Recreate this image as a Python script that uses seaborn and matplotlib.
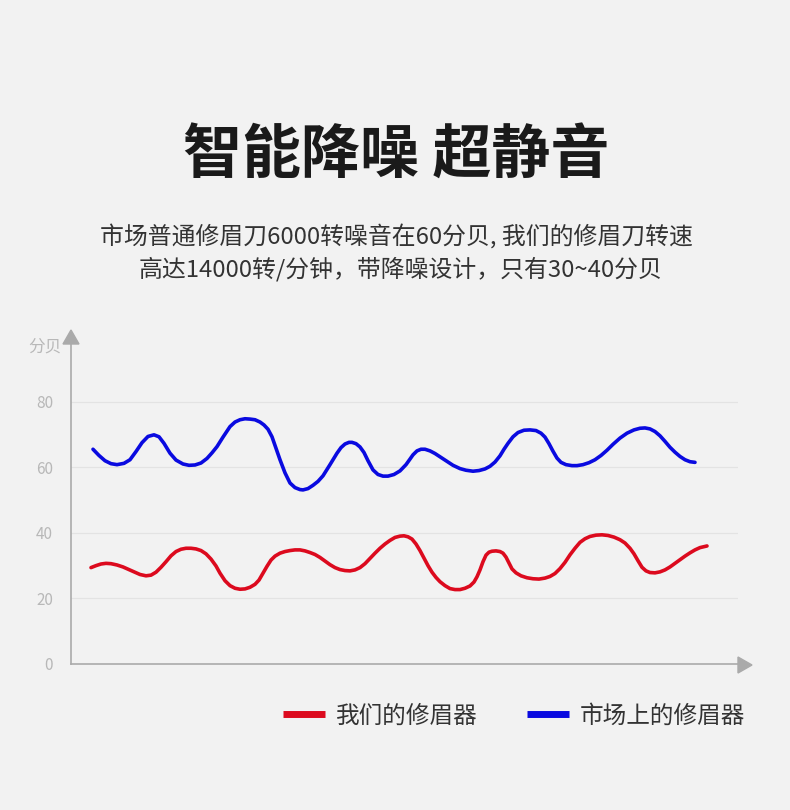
import pandas as pd
import matplotlib.pyplot as plt
import seaborn as sns
from matplotlib.patches import Polygon
from matplotlib.transforms import IdentityTransform

# Values (x = horizontal position along the axis, y = 分贝)
ours_x = [91, 96, 101, 106, 111, 117, 123, 129, 135, 140, 146, 151, 156, 161, 166, 171,
          176, 181, 186, 191, 196, 201, 206, 211, 216, 220, 225, 230, 235, 240, 245, 250,
          255, 259, 263, 267, 271, 275, 280, 285, 290, 295, 300, 305, 310, 315, 320, 325,
          330, 335, 340, 345, 350, 355, 360, 365, 370, 375, 380, 385, 390, 395, 400, 404,
          408, 412, 416, 420, 424, 428, 432, 436, 440, 445, 450, 455, 460, 465, 470, 474,
          477, 480, 483, 486, 489, 492, 496, 500, 503, 506, 509, 512, 516, 521, 527, 533,
          539, 545, 550, 555, 560, 565, 570, 575, 580, 585, 590, 596, 602, 608, 614, 620,
          625, 630, 634, 638, 642, 646, 650, 655, 660, 665, 670, 675, 680, 685, 690, 695,
          700, 707]
ours_db = [29.4, 30.0, 30.5, 30.7, 30.6, 30.2, 29.6, 28.8, 28.0, 27.3, 26.9, 27.1, 28.0,
           29.5, 31.2, 33.0, 34.3, 35.0, 35.3, 35.3, 35.1, 34.6, 33.6, 32.0, 29.9, 27.7,
           25.4, 23.9, 23.1, 22.8, 22.9, 23.4, 24.3, 25.6, 27.7, 29.8, 31.7, 32.9, 33.8,
           34.3, 34.6, 34.8, 34.8, 34.5, 34.0, 33.4, 32.5, 31.4, 30.3, 29.4, 28.8, 28.5,
           28.4, 28.7, 29.4, 30.6, 32.2, 33.8, 35.3, 36.6, 37.7, 38.6, 39.0, 39.1, 38.8,
           38.1, 36.6, 34.6, 32.3, 30.0, 28.0, 26.4, 25.1, 23.9, 23.0, 22.7, 22.7, 23.1,
           23.8, 25.0, 26.6, 28.7, 31.2, 33.2, 34.1, 34.4, 34.5, 34.3, 33.8, 32.6, 30.8,
           29.0, 27.8, 26.9, 26.3, 26.0, 25.9, 26.2, 26.7, 27.6, 29.1, 31.0, 33.3, 35.3,
           37.1, 38.2, 38.9, 39.3, 39.4, 39.2, 38.7, 37.9, 36.9, 35.3, 33.6, 31.5, 29.5,
           28.4, 27.9, 27.8, 28.1, 28.7, 29.6, 30.7, 31.8, 32.9, 33.9, 34.8, 35.5, 36.0]

market_x = [93, 99, 105, 111, 117, 124, 130, 136, 142, 148, 154, 159, 164, 170, 176, 183,
            189, 195, 201, 207, 212, 217, 223, 230, 235, 240, 245, 250, 255, 260, 264, 268,
            272, 276, 280, 285, 290, 295, 300, 303, 308, 313, 318, 323, 330, 337, 341, 345,
            349, 352, 356, 360, 364, 368, 373, 378, 383, 388, 394, 400, 406, 410, 413, 417,
            421, 425, 430, 435, 441, 447, 453, 460, 466, 473, 479, 485, 490, 495, 500, 504,
            508, 513, 518, 524, 530, 536, 541, 545, 549, 553, 557, 561, 566, 572, 577, 583,
            589, 595, 601, 607, 613, 620, 627, 634, 640, 645, 650, 655, 660, 665, 670, 675,
            680, 685, 690, 695]
market_db = [65.5, 63.6, 62.0, 61.1, 60.8, 61.2, 62.3, 64.8, 67.5, 69.4, 69.9, 69.3, 67.3,
             64.3, 62.2, 61.0, 60.6, 60.7, 61.3, 62.7, 64.4, 66.3, 69.2, 72.4, 73.8, 74.5,
             74.8, 74.7, 74.5, 73.8, 72.9, 71.6, 69.3, 65.8, 62.3, 58.3, 55.2, 53.8, 53.2,
             53.1, 53.5, 54.5, 55.7, 57.4, 60.8, 64.3, 66.0, 67.1, 67.6, 67.6, 67.2, 66.2,
             64.5, 62.0, 59.2, 57.8, 57.3, 57.3, 57.8, 58.9, 60.8, 62.5, 63.8, 65.0, 65.5,
             65.5, 65.0, 64.2, 63.0, 61.8, 60.6, 59.6, 59.1, 58.8, 59.0, 59.5, 60.3, 61.6,
             63.5, 65.5, 67.3, 69.3, 70.6, 71.3, 71.4, 71.2, 70.4, 69.2, 67.2, 64.9, 62.8,
             61.5, 60.8, 60.5, 60.5, 60.8, 61.4, 62.3, 63.6, 65.2, 67.0, 68.9, 70.4, 71.4,
             71.9, 72.0, 71.7, 70.9, 69.6, 67.9, 66.1, 64.6, 63.3, 62.3, 61.7, 61.5]

series_names = ["我们的修眉器", "市场上的修眉器"]
series_colors = ["#dc0a1e", "#0a0ae0"]
y_ticks = [0, 20, 40, 60, 80]

title = "智能降噪 超静音"
subtitle = ["市场普通修眉刀6000转噪音在60分贝, 我们的修眉刀转速",
            "高达14000转/分钟，带降噪设计，只有30~40分贝"]

df = pd.concat([
    pd.DataFrame({"x": ours_x, "db": ours_db, "series": series_names[0]}),
    pd.DataFrame({"x": market_x, "db": market_db, "series": series_names[1]}),
])

bg = "#f2f2f2"
sns.set_theme(style="white")
plt.rcParams["font.family"] = ["Noto Sans CJK SC", "DejaVu Sans"]

fig = plt.figure(figsize=(7.9, 8.1), dpi=100, facecolor=bg)
ax = fig.add_axes([71 / 790, 1 - 664 / 810, 667 / 790, 320 / 810])
ax.set_facecolor(bg)

sns.lineplot(data=df, x="x", y="db", hue="series", hue_order=series_names,
             palette=series_colors, estimator=None, sort=True, linewidth=2.6,
             solid_joinstyle="round", ax=ax)

ax.set_xlim(71, 738)
ax.set_ylim(0, 97.6)
ax.set_yticks(y_ticks)
ax.set_xticks([])
ax.set_xlabel("")
ax.set_ylabel("")
ax.tick_params(axis="y", length=0, pad=13, labelcolor="#b8b8b8", labelsize=11)
for v in y_ticks[1:]:
    ax.axhline(v, color="#e3e3e3", linewidth=0.9, zorder=0)

for side in ["top", "right"]:
    ax.spines[side].set_visible(False)
for side in ["left", "bottom"]:
    ax.spines[side].set_color("#aaaaaa")
    ax.spines[side].set_linewidth(1.2)

# axis arrow heads (pixel coordinates)
fig.add_artist(Polygon([[63, 810 - 344], [79, 810 - 344], [71, 810 - 330]],
                       closed=True, color="#aaaaaa", transform=IdentityTransform()))
fig.add_artist(Polygon([[738, 810 - 657], [738, 810 - 673], [752, 810 - 665]],
                       closed=True, color="#aaaaaa", transform=IdentityTransform()))

fig.text(45 / 790, 1 - 347 / 810, "分贝", ha="center", va="center",
         color="#b8b8b8", fontsize=12)

# titles
fig.text(396 / 790, 1 - 157 / 810, title, ha="center", va="center",
         color="#1a1a1a", fontsize=42.5, fontweight="heavy")
fig.text(396 / 790, 1 - 236 / 810, subtitle[0], ha="center", va="center",
         color="#333333", fontsize=17.2)
fig.text(401 / 790, 1 - 269 / 810, subtitle[1], ha="center", va="center",
         color="#333333", fontsize=17.2)

# legend
ax.get_legend().remove()
handles, labels = ax.get_legend_handles_labels()
leg = fig.legend(handles, labels, loc="center", bbox_to_anchor=(514 / 790, 1 - 716 / 810),
                 ncol=2, frameon=False, fontsize=17, handlelength=1.8,
                 handletextpad=0.45, columnspacing=2.1, labelcolor="#333333")
for h in leg.legend_handles:
    h.set_linewidth(5)
    h.set_solid_capstyle("butt")

fig.savefig("out.png", dpi=100, facecolor=bg)
